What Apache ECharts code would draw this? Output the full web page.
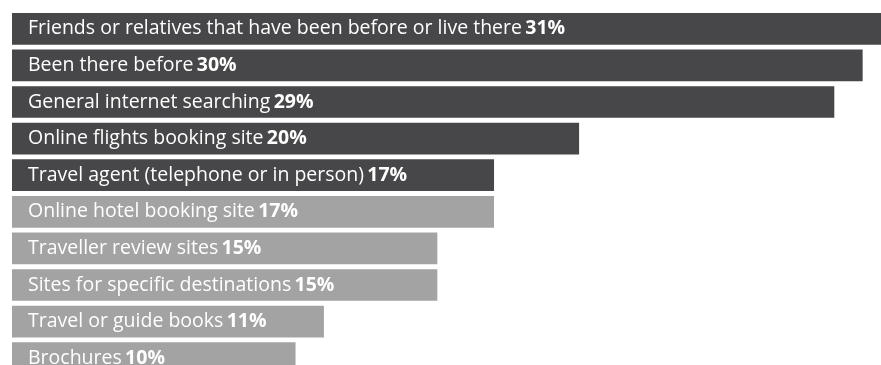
<!DOCTYPE html>
<html>
<head>
<meta charset="utf-8">
<script src="https://cdn.jsdelivr.net/npm/echarts@6/dist/echarts.min.js"></script>
<style>html,body{margin:0;padding:0;background:#fff}#c{width:881px;height:365px}</style>
</head>
<body>
<div id="c"></div>
<script>
const categories = [
  'Friends or relatives that have been before or live there',
  'Been there before',
  'General internet searching',
  'Online flights booking site',
  'Travel agent (telephone or in person)',
  'Online hotel booking site',
  'Traveller review sites',
  'Sites for specific destinations',
  'Travel or guide books',
  'Brochures'
];
const values = [31, 30, 29, 20, 17, 17, 15, 15, 11, 10];
const highlighted = [true, true, true, true, true, false, false, false, false, false];
const darkColor = '#474749';
const lightColor = '#a3a3a3';

const chart = echarts.init(document.getElementById('c'), null, {renderer: 'canvas'});
chart.setOption({
  animation: false,
  grid: {left: 12, top: 10.5, width: 879, height: 366, containLabel: false, outerBoundsMode: 'none'},
  xAxis: {type: 'value', min: 0, max: 31, show: false},
  yAxis: {type: 'category', data: categories, inverse: true, show: false},
  series: [{
    type: 'bar',
    barWidth: 31.7,
    clip: false,
    data: values.map((v, i) => ({value: v, itemStyle: {color: highlighted[i] ? darkColor : lightColor}})),
    label: {
      show: true,
      position: 'insideLeft',
      distance: 16,
      formatter: p => '{n|' + p.name + '} {b|' + p.value + '%}',
      rich: {
        n: {fontFamily: 'Open Sans', fontSize: 19.5, color: '#ffffff'},
        b: {fontFamily: 'Open Sans', fontSize: 19.5, fontWeight: 'bold', color: '#ffffff'}
      }
    }
  }]
});
</script>
</body>
</html>
